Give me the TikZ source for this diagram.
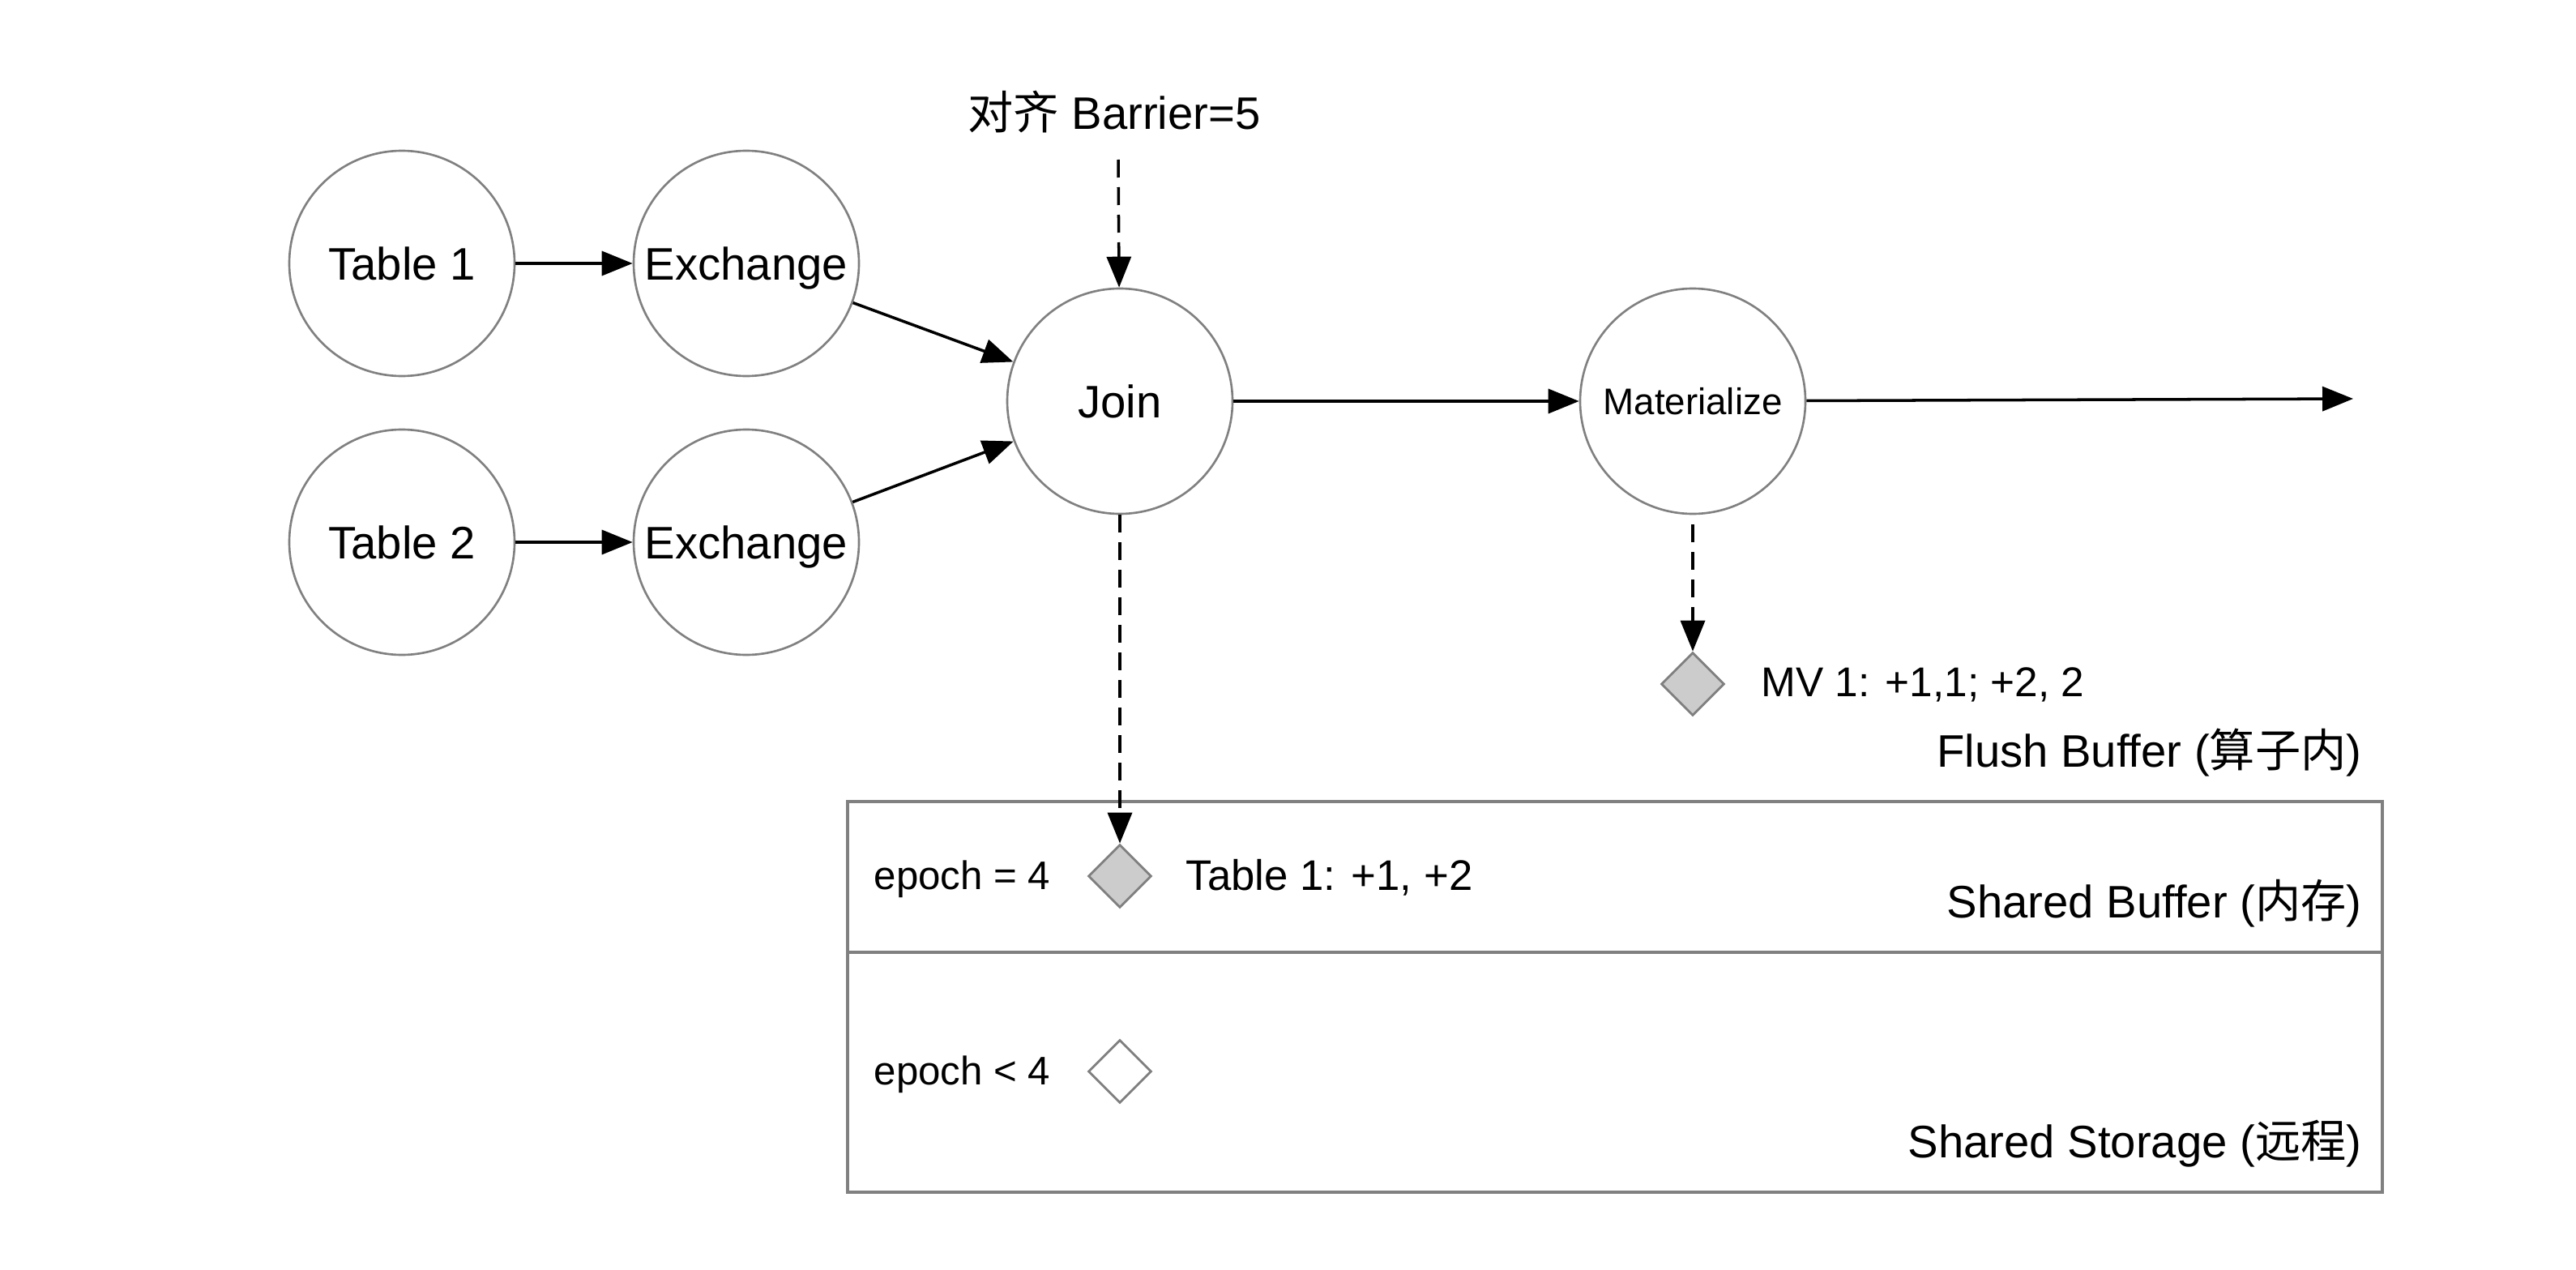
\documentclass[tikz,border=0pt]{standalone}
\usepackage{fontspec}
\setmainfont{Liberation Sans}
\newfontfamily\cjk{Noto Sans CJK SC}
\usetikzlibrary{arrows.meta,shapes.geometric}
\definecolor{edgegray}{HTML}{808080}
\definecolor{diagray}{HTML}{CCCCCC}

\begin{document}
\begin{tikzpicture}[
    op/.style={circle,draw=edgegray,line width=0.75pt,minimum size=2.78cm,inner sep=0pt,text depth=0pt,font=\fontsize{16}{19}\selectfont},
    flow/.style={-{Triangle[length=3.8mm,width=3mm]},line width=1pt},
    dflow/.style={flow,dash pattern=on 2.2mm off 1.2mm},
    marker/.style={diamond,draw=edgegray,line width=0.8pt,minimum size=0.78cm,inner sep=0pt},
    lbl/.style={font=\fontsize{16}{19}\selectfont,inner sep=0pt},
    small/.style={font=\fontsize{14}{17}\selectfont,inner sep=0pt}
]
        \useasboundingbox (0,0) rectangle (31.79,15.66);

        % Operators
        \node[op] (t1) at (4.96,12.41) {Table 1};
        \node[op] (ex1) at (9.21,12.41) {Exchange};
        \node[op] (t2) at (4.96,8.97) {Table 2};
        \node[op] (ex2) at (9.21,8.97) {Exchange};
        \node[op] (join) at (13.82,10.71) {Join};
        \node[op,font=\fontsize{13}{16}\selectfont] (mat) at (20.89,10.71) {Materialize};

        % Data flow
        \draw[flow] (t1) -- (ex1);
        \draw[flow] (t2) -- (ex2);
        \draw[flow] (ex1) -- (join);
        \draw[flow] (ex2) -- (join);
        \draw[flow] (join) -- (mat);
        \coordinate (out) at (29.04,10.74);
        \draw[flow] (mat) -- (out);

        % Barrier
        \node[lbl] (barrier) at (13.75,14.28) {{\cjk 对齐} Barrier=5};
        \coordinate (bartop) at (13.80,13.69);
        \draw[dflow] (bartop) -- (join);

        % Flush buffer
        \node[marker,fill=diagray] (mv) at (20.89,7.22) {};
        \node[small,font=\fontsize{14.6}{17}\selectfont,anchor=west] (mvtxt) at (21.73,7.21) {MV 1: +1,1; +2, 2};
        \node[lbl,anchor=east] (flush) at (29.15,6.37) {Flush Buffer ({\cjk 算子内})};
        \draw[dflow,shorten <=1.2mm] (mat) -- (mv);

        % Shared buffer and storage
        \draw[draw=edgegray,line width=0.9pt] (10.46,0.95) rectangle (29.40,5.77);
        \draw[draw=edgegray,line width=0.9pt] (10.46,3.91) -- (29.40,3.91);
        \node[small,anchor=west] (ep4) at (10.78,4.81) {epoch = 4};
        \node[marker,fill=diagray] (buf) at (13.82,4.85) {};
        \node[small,font=\fontsize{15}{18}\selectfont,anchor=west] (buftxt) at (14.63,4.83) {Table 1: +1, +2};
        \node[lbl,anchor=east] (shbuf) at (29.15,4.51) {Shared Buffer ({\cjk 内存})};
        \draw[dflow] (join) -- (buf);

        \node[small,anchor=west] (ep3) at (10.78,2.40) {epoch < 4};
        \node[marker,fill=white] (store) at (13.82,2.44) {};
        \node[lbl,anchor=east] (shstore) at (29.15,1.55) {Shared Storage ({\cjk 远程})};

\end{tikzpicture}
\end{document}
